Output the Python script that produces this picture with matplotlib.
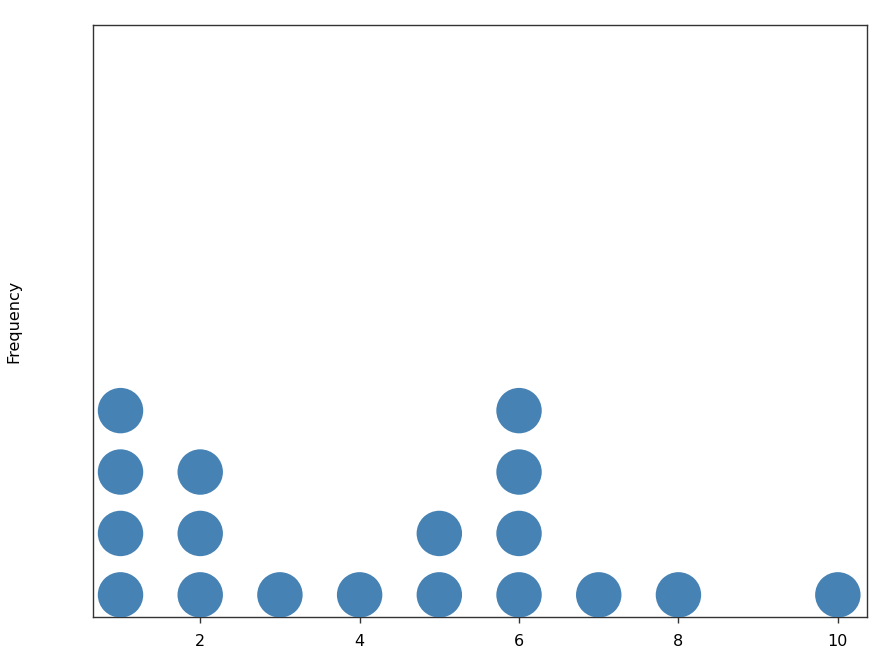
import numpy as np
import matplotlib
matplotlib.use("Agg")
import matplotlib.pyplot as plt

# values and their counts
values = [1, 2, 3, 4, 5, 6, 7, 8, 10]
counts = [4, 3, 1, 1, 2, 4, 1, 1, 1]

xs = []
ys = []
for v, c in zip(values, counts):
    for k in range(1, c + 1):
        xs.append(v)
        ys.append(k)

fig = plt.figure(figsize=(8.8, 6.6), dpi=100)
ax = fig.add_axes([0.1057, 0.0652, 0.879, 0.897])

ax.scatter(xs, ys, s=1070, color="#4682B4", edgecolors="none", zorder=3)

ax.set_xlim(0.655, 10.36)
ax.set_ylim(0.64, 10.28)
ax.set_xticks([2, 4, 6, 8, 10])
ax.set_yticks([])
ax.tick_params(axis="x", length=4, width=1, color="#333333", labelsize=11.5, pad=8)
for sp in ax.spines.values():
    sp.set_color("#333333")
    sp.set_linewidth(1)

fig.text(14 / 880, 1 - 321 / 660, "Frequency", rotation=90, ha="center", va="center", fontsize=11.5)

fig.savefig("out.png", dpi=100)
